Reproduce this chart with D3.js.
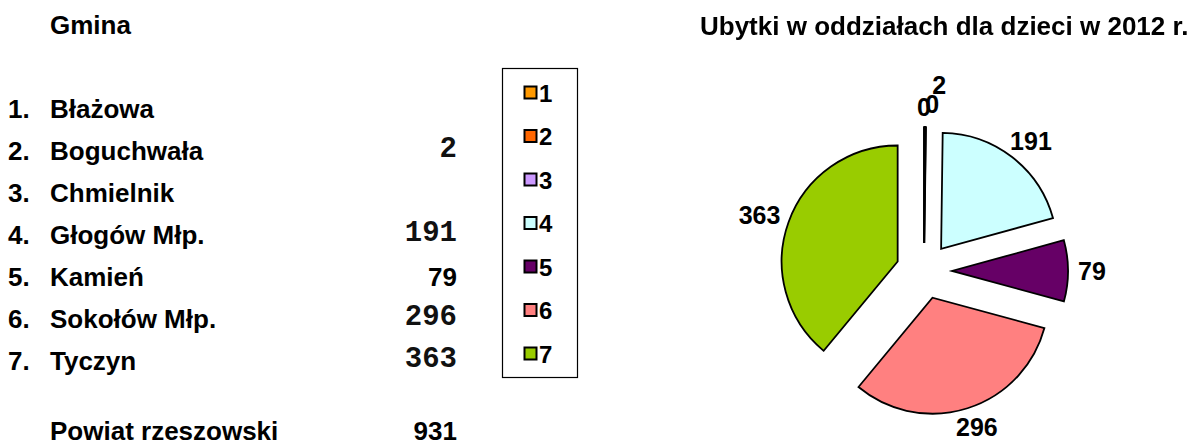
<!DOCTYPE html>
<html lang="pl">
<head>
<meta charset="utf-8">
<script src="https://cdn.jsdelivr.net/npm/d3@7/dist/d3.min.js"></script>
<style>
  html, body { margin: 0; padding: 0; background: #fff; }
  svg { display: block; }
  .sans { font-family: "Liberation Sans", Arial, sans-serif; font-weight: bold; fill: #000; }
  .mono { font-family: "Liberation Mono", "Courier New", monospace; font-weight: bold; fill: #111; }
</style>
</head>
<body>
<svg id="chart" width="1199" height="446"></svg>
<script>
// Ubytki w oddziałach dla dzieci, powiat rzeszowski, 2012
const gminy = ["Błażowa", "Boguchwała", "Chmielnik", "Głogów Młp.", "Kamień", "Sokołów Młp.", "Tyczyn"];
const ubytki = [0, 2, 0, 191, 79, 296, 363];
const legendKeys = ["1", "2", "3", "4", "5", "6", "7"];
const powiatLabel = "Powiat rzeszowski";
const powiatTotal = 931;
const headerLabel = "Gmina";
const title = "Ubytki w oddziałach dla dzieci w 2012 r.";
const sliceColors = ["#FF9900", "#FF6600", "#CC99FF", "#CCFFFF", "#660066", "#FF8080", "#99CC00"];

const svg = d3.select("#chart");
const FS = 26;

// ---------- table on the left ----------
svg.append("text").attr("class", "sans").attr("x", 50).attr("y", 34)
  .style("font-size", FS + "px").text(headerLabel);

const rowY = d3.scalePoint().domain(d3.range(gminy.length)).range([118, 370]);
const table = svg.append("g");
const rows = table.selectAll("g.row").data(gminy).join("g").attr("class", "row");
rows.append("text").attr("class", "sans").style("font-size", FS + "px")
  .attr("x", 8).attr("y", (d, i) => rowY(i)).text((d, i) => (i + 1) + ".");
rows.append("text").attr("class", "sans").style("font-size", FS + "px")
  .attr("x", 50).attr("y", (d, i) => rowY(i)).text(d => d);

// values column: zeros are left blank; "Kamień" is typed in the sans face
const sansValueRows = new Set([4]);
rows.append("text")
  .attr("class", (d, i) => sansValueRows.has(i) ? "sans" : "mono")
  .style("font-size", (d, i) => (sansValueRows.has(i) ? FS : 29) + "px")
  .attr("text-anchor", "end")
  .attr("x", 457)
  .attr("y", (d, i) => rowY(i) - (sansValueRows.has(i) ? 0 : 3))
  .text((d, i) => ubytki[i] === 0 ? "" : ubytki[i]);

svg.append("text").attr("class", "sans").style("font-size", FS + "px")
  .attr("x", 50).attr("y", 440).text(powiatLabel);
svg.append("text").attr("class", "sans").style("font-size", FS + "px")
  .attr("text-anchor", "end").attr("x", 457).attr("y", 440).text(powiatTotal);

// ---------- legend ----------
const legend = svg.append("g");
legend.append("rect").attr("x", 502.5).attr("y", 68.5).attr("width", 75).attr("height", 309)
  .attr("fill", "#fff").attr("stroke", "#000").attr("stroke-width", 1.2);
const legY = d3.scalePoint().domain(legendKeys).range([93, 354]);
const items = legend.selectAll("g.item").data(legendKeys).join("g").attr("class", "item")
  .attr("transform", d => `translate(0,${legY(d)})`);
items.append("rect").attr("x", 524.5).attr("y", -6.5).attr("width", 12).attr("height", 12)
  .attr("fill", (d, i) => sliceColors[i]).attr("stroke", "#000").attr("stroke-width", 2);
items.append("text").attr("class", "sans").style("font-size", "24px")
  .attr("x", 539).attr("y", 8.5).text(d => d);

// ---------- exploded pie ----------
svg.append("text").attr("class", "sans").style("font-size", FS + "px").attr("fill", "#111")
  .attr("x", 700).attr("y", 35).style("filter", "blur(0.35px)").text(title);

const cx = 924, cy = 271, R = 116, explode = 28;
const pie = d3.pie().sort(null).value(d => d);
const arcs = pie(ubytki);
const arc = d3.arc().innerRadius(0).outerRadius(R);
const mid = d => (d.startAngle + d.endAngle) / 2;

const pieG = svg.append("g").attr("transform", `translate(${cx},${cy})`);
pieG.selectAll("path").data(arcs).join("path")
  .attr("transform", d => `translate(${explode * Math.sin(mid(d))},${-explode * Math.cos(mid(d))})`)
  .attr("d", arc)
  .attr("fill", (d, i) => sliceColors[i])
  .attr("stroke", "#000")
  .attr("stroke-width", 1.8)
  .attr("stroke-linejoin", "miter");

// data labels outside each slice; a label that collides with the previous one is pushed outward
const LFS = 25;
const labels = pieG.selectAll("text.lbl").data(arcs).join("text")
  .attr("class", "sans lbl").style("font-size", LFS + "px")
  .attr("text-anchor", "middle")
  .text(d => d.data);
let prev = null;
labels.each(function (d) {
  const bb = this.getBBox();
  const a = mid(d);
  const s = Math.sin(a), c = -Math.cos(a);
  const rr = R + explode + 10;
  let x = rr * s + (bb.width / 2) * s;
  let y = rr * c + (bb.height * 0.36) * c;
  let k = 0;
  const hit = () => prev && Math.abs(prev.x - x) < bb.width * 0.6 && Math.abs(prev.y - y) < LFS * 0.5;
  while (hit() && k < 6) { k++; x += 7; y -= 11; }
  if (k === 0 && d.data === 0 && d.index > 0) { x += 6; y -= 3; }
  prev = { x, y };
  d3.select(this).attr("x", x).attr("y", y + LFS * 0.36);
});
</script>
</body>
</html>
